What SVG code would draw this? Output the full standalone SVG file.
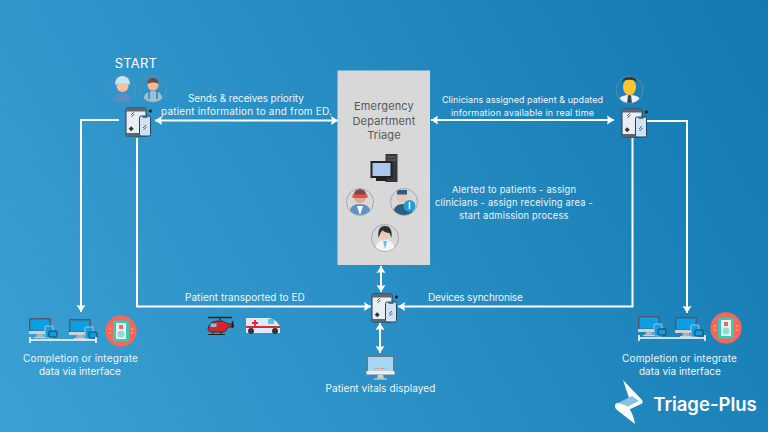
<svg xmlns="http://www.w3.org/2000/svg" width="768" height="432" viewBox="0 0 768 432">
<style>
text{font-family:"Inter","Noto Sans","DejaVu Sans",sans-serif;fill:#fff;text-anchor:middle}
.l{font-size:10px;letter-spacing:.2px;fill:#eef6fb}
.s{font-size:9.300px;letter-spacing:.2px;fill:#eef6fb}
.c{font-size:9px;letter-spacing:.05px;fill:#eef6fb}
.d{font-size:11px;letter-spacing:.15px;fill:#55585a}
.w{fill:none;stroke:#fff;stroke-width:2}
.o{stroke:#2b3a4a;stroke-width:1}
.ring{fill:none;stroke:#6f8b9f;stroke-width:.8}
.ring2{fill:none;stroke:#9a9a9a;stroke-width:.8}
</style>
<defs>
<linearGradient id="bg" gradientUnits="userSpaceOnUse" x1="0" y1="432" x2="768" y2="0">
<stop offset="0" stop-color="#3ba1d4"/><stop offset="1" stop-color="#1279b1"/>
</linearGradient>
<marker id="a" markerUnits="userSpaceOnUse" markerWidth="8" markerHeight="10" refX="7" refY="5" orient="auto-start-reverse"><path d="M0 .5L7 5L0 9.500L1 5Z" fill="#fff"/></marker>
<clipPath id="c1"><circle cx="122.500" cy="89" r="13"/></clipPath>
<clipPath id="c2"><circle cx="153" cy="89" r="13"/></clipPath>
<clipPath id="c3"><circle cx="629.500" cy="90" r="13"/></clipPath>
<clipPath id="c4"><circle cx="360" cy="202" r="13"/></clipPath>
<clipPath id="c5"><circle cx="404" cy="202" r="13"/></clipPath>
<clipPath id="c6"><circle cx="385" cy="238" r="13"/></clipPath>
<g id="device">
<rect x="0" y="0" width="20" height="28" rx="1" fill="#e9eef2" class="o"/>
<rect x="0" y="0" width="20" height="3.500" fill="#5c6670"/>
<rect x="0" y="25" width="20" height="3" fill="#5c6670"/>
<path d="M5 7l3-3M5.500 9l3-3" stroke="#333" stroke-width=".8"/>
<rect x="3.500" y="19" width="3.500" height="3.500" transform="rotate(45 5.200 20.700)" fill="#333"/>
<rect x="13.500" y="8" width="11" height="20" rx="1.500" fill="#cfe3f6" stroke="#24445f" stroke-width="1"/>
<rect x="16.500" y="8.500" width="5" height="1.200" fill="#24445f"/>
<path d="M17 20l3-3M17.500 22l3-3" stroke="#333" stroke-width=".8"/>
<rect x="23" y="1.500" width="2.800" height="2.800" transform="rotate(45 24.400 2.900)" fill="#222"/>
</g>
<g id="desk">
<rect x="0" y="0" width="22" height="16" rx="1" fill="#4f5b66"/>
<rect x="1.500" y="1.500" width="19" height="11" fill="#0d9fe6"/>
<rect x="0" y="13" width="22" height="3" fill="#c9d2d8"/>
<path d="M8 16h6l1 3H7Z" fill="#aab4bb"/>
<rect x="5" y="19" width="12" height="1.200" fill="#c9d2d8"/>
<rect x="16" y="8" width="8" height="12" rx="1" fill="#0d9fe6" stroke="#c9d2d8" stroke-width=".8"/>
<rect x="20" y="13" width="8" height="6" rx="1" fill="#0d9fe6" stroke="#2b3a4a"/>
</g>
<g id="tablet">
<circle cx="16" cy="16" r="15.700" fill="#f4675a"/>
<rect x="8" y="5.500" width="16" height="21" rx="2" fill="#3cc8b4"/>
<rect x="11" y="8" width="10" height="16" fill="#e7f2f2"/>
<rect x="14" y="10" width="4" height="4" fill="#f4675a"/>
<circle cx="16" cy="19" r="3.500" fill="#8fdcd2"/>
<path d="M5 13v2M5 17v2M27 13v2M27 17v2" stroke="#ffcf6b" stroke-width="1"/>
</g>
</defs>
<rect width="768" height="432" fill="url(#bg)"/>
<g id="connectors">
<path class="w" d="M119 120H81V312" marker-end="url(#a)"/>
<path class="w" d="M137 138V306.500H371" marker-end="url(#a)"/>
<path class="w" d="M155 120.500H338" marker-start="url(#a)" marker-end="url(#a)"/>
<path class="w" d="M431 120H614" marker-start="url(#a)" marker-end="url(#a)"/>
<path class="w" d="M647 121H687V313" marker-end="url(#a)"/>
<path class="w" d="M632.500 138V306.500H398" marker-end="url(#a)"/>
<path class="w" d="M381 266V292" marker-start="url(#a)" marker-end="url(#a)"/>
<path class="w" d="M380 323V353" marker-start="url(#a)" marker-end="url(#a)"/>
</g>
<g id="start">
<text x="136" y="68" style="font-size:13px;letter-spacing:.2px">START</text>
<circle cx="122.500" cy="89" r="13.500" class="ring"/>
<g clip-path="url(#c1)">
<path d="M114 104c0-9 4-11 8.500-11s8.500 2 8.500 11Z" fill="#5b8fc4"/>
<circle cx="122.500" cy="86" r="6" fill="#f6c0a4"/>
<path d="M115 85c0-7 4-9 7.500-9s7.500 2 7.500 9c-4-3-11-3-15 0Z" fill="#c5e6f2"/>
</g>
<circle cx="153" cy="89" r="13.500" class="ring"/>
<g clip-path="url(#c2)">
<path d="M143 104c0-10 4-13 10-13s10 3 10 13Z" fill="#93c3d8"/>
<circle cx="153" cy="85" r="5.500" fill="#f6b795"/>
<path d="M147.500 84c0-5 3-6 5.500-6s5.500 1 5.500 6c-3-2-8-2-11 0Z" fill="#6d4a44"/>
<path d="M149 91v8M157 91v8" stroke="#2c5b70" stroke-width="1"/>
</g>
</g>
<use id="device-left" href="#device" x="126" y="108"/>
<g id="label-sends">
<text class="l" x="246" y="102" textLength="116">Sends &amp; receives priority</text>
<text class="l" x="246.500" y="115" textLength="171">patient information to and from ED.</text>
</g>
<g id="triage">
<rect x="337.500" y="70.500" width="92.500" height="194.500" fill="#d8d8d8"/>
<text class="d" x="384" y="110">Emergency</text>
<text class="d" x="384" y="125">Department</text>
<text class="d" x="384" y="139">Triage</text>
<path d="M385.500 154h12v28h-12Z" fill="#33383d"/>
<path d="M386.500 157h10M386.500 160h10" stroke="#888" stroke-width=".7"/>
<rect x="370.500" y="161" width="22" height="17" fill="#222"/>
<rect x="372.500" y="163" width="18" height="13" fill="#a9c8ee"/>
<rect x="376" y="178" width="11" height="3" fill="#222"/>
<circle cx="360" cy="202" r="13.500" fill="#e6e6e6" class="ring2"/>
<g clip-path="url(#c4)">
<path d="M349 216c0-9 4-12 11-12s11 3 11 12Z" fill="#5d92c4"/>
<path d="M357 206h6l-3 9Z" fill="#fff"/>
<circle cx="360" cy="197" r="6" fill="#e3a98d"/>
<path d="M354 198c-1-6 2-9 6-9s7 3 6 9Z" fill="#7d4a42"/>
<rect x="352.500" y="194.500" width="15" height="3.500" fill="#e8534a"/>
</g>
<circle cx="404" cy="202" r="13.500" fill="#e6e6e6" class="ring2"/>
<g clip-path="url(#c5)">
<path d="M393 216c0-9 4-12 10-12s10 3 10 12Z" fill="#2d5d86"/>
<circle cx="402" cy="197" r="5.500" fill="#e9c6b5"/>
<rect x="397" y="190" width="10" height="4.500" fill="#2d5d86"/>
</g>
<circle cx="409.500" cy="206" r="6" fill="#1d9fd8"/>
<path d="M409.500 202v7" stroke="#fff" stroke-width="1.500"/>
<circle cx="385" cy="238" r="13.500" fill="#e6e6e6" class="ring2"/>
<g clip-path="url(#c6)">
<path d="M375 252c0-8 4-12 10-12s10 4 10 12Z" fill="#f2f5f6"/>
<path d="M383 241h4l-2 8Z" fill="#62bfe0"/>
<circle cx="385" cy="233" r="5.500" fill="#f5c6a7"/>
<path d="M378.500 238c-1-9 2-12 6.500-12s7.500 3 6.500 12l-2-5c-2 0-6-1-7-3l-2 3Z" fill="#24303a"/>
</g>
</g>
<g id="label-clinicians">
<text class="c" x="522.500" y="103" textLength="161">Clinicians assigned patient &amp; updated</text>
<text class="c" x="522.500" y="116" textLength="143">information available in real time</text>
</g>
<g id="clinician">
<circle cx="629.500" cy="90" r="13.500" class="ring"/>
<g clip-path="url(#c3)">
<path d="M618 104c0-7 4-9 11.500-9s11.500 2 11.500 9Z" fill="#eef2f4"/>
<path d="M628 95h3l1 9h-5Z" fill="#2b4a66"/>
<ellipse cx="629.500" cy="87" rx="6.500" ry="8.500" fill="#fdc62f"/>
<path d="M622 82c1-5 4-6 7.500-6s6.500 1 7.500 6c-3-3-12-3-15 0Z" fill="#2d3a44"/>
</g>
</g>
<use id="device-right" href="#device" x="622" y="109"/>
<g id="label-alerted">
<text class="s" x="514" y="193">Alerted to patients - assign</text>
<text class="s" x="514" y="206" textLength="158">clinicians - assign receiving area -</text>
<text class="s" x="514" y="219">start admission process</text>
</g>
<use id="device-center" href="#device" x="372" y="294"/>
<text id="label-transported" class="l" x="245" y="301" textLength="120">Patient transported to ED</text>
<text id="label-devices" class="l" x="475.500" y="301" textLength="95">Devices synchronise</text>
<g id="vehicles">
<path d="M208 317.500h24M220 317.500v3" stroke="#222" stroke-width="1.300"/>
<path d="M208.500 327c2-5 5-6 12-6h2l6 3h5v3h-5l-4 5h-13c-3 0-4-2-3-5Z" fill="#d8222c" stroke="#222" stroke-width=".8"/>
<path d="M232.500 321v7" stroke="#222" stroke-width="1.500"/>
<rect x="210.500" y="323.500" width="6" height="3.500" fill="#7ec4e6"/>
<path d="M208 334.500h17M213 332v2.500M221 332v2.500" stroke="#222" stroke-width="1"/>
<path d="M246 318h24l6 3 4 5v7h-34Z" fill="#dbe9f8"/>
<rect x="268" y="319" width="6" height="5" fill="#58bfe6"/>
<path d="M246 327h34" stroke="#e8272c" stroke-width="2"/>
<path d="M255 320v6M252 323h6" stroke="#e8272c" stroke-width="1.800"/>
<circle cx="251" cy="331" r="3" fill="#333"/><circle cx="275" cy="331" r="3" fill="#333"/>
</g>
<g id="vitals">
<rect x="366.500" y="355" width="28" height="20" rx="1" fill="#6e7780"/>
<rect x="368" y="357" width="25" height="14" fill="#a5d6f3"/>
<rect x="366.500" y="371" width="28" height="3.500" fill="#eef0f1"/>
<path d="M378 374.500h5l1 4h-7Z" fill="#c9cfd2"/>
<rect x="374" y="378.500" width="13" height="1" fill="#e3e6e8"/>
<path d="M375 368.500h11" stroke="#e68a7a" stroke-width="1" stroke-dasharray="1.500 1"/>
<text class="l" x="380.500" y="392" textLength="110">Patient vitals displayed</text>
</g>
<g id="completion-left">
<use href="#desk" x="29" y="318"/><use href="#desk" x="69" y="319"/>
<path d="M30 337v6M30 340H96M96 337v6" class="w" style="stroke-width:1.500"/>
<use href="#tablet" x="105" y="315"/>
<text class="l" x="80.500" y="362" textLength="115">Completion or integrate</text>
<text class="l" x="80" y="375" textLength="82">data via interface</text>
</g>
<g id="completion-right">
<use href="#desk" x="638" y="316"/><use href="#desk" x="675" y="317"/>
<path d="M639 335v6M639 338H705M705 335v6" class="w" style="stroke-width:1.500"/>
<use href="#tablet" x="710" y="312"/>
<text class="l" x="679.500" y="362" textLength="115">Completion or integrate</text>
<text class="l" x="680" y="375" textLength="82">data via interface</text>
</g>
<g id="logo">
<path d="M623 380L642 400c1 2 1 3-1 4L624 412c4-4 7-9 5-14Z" fill="#fff"/>
<path d="M618 403l14-7 7 5-14 7Z" fill="#8cc3e4"/>
<path d="M615 406c0-2 1-3 3-3l9 3c4 4 7 11 8 18l-18-14c-1-1-2-2-2-4Z" fill="#fff"/>
<text x="705" y="411" style="font-size:18.500px;font-weight:600">Triage-Plus</text>
</g>
</svg>
